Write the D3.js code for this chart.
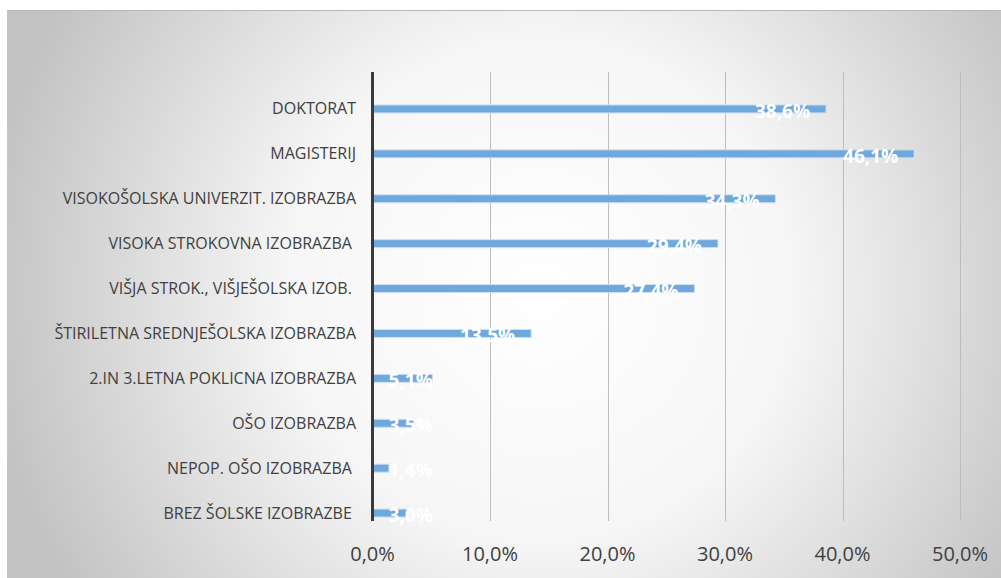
<!DOCTYPE html>
<html>
<head>
<meta charset="utf-8">
<script src="https://cdn.jsdelivr.net/npm/d3@7/dist/d3.min.js"></script>
<style>
  html, body { margin: 0; padding: 0; background: #fff; }
  text { font-family: "Open Sans", "Liberation Sans", sans-serif; white-space: pre; }
</style>
</head>
<body>
<div id="chart"></div>
<script>
// categories top to bottom
var categories = [
  "DOKTORAT",
  "MAGISTERIJ",
  "VISOKOŠOLSKA UNIVERZIT. IZOBRAZBA",
  "VISOKA STROKOVNA IZOBRAZBA ",
  "VIŠJA STROK., VIŠJEŠOLSKA IZOB. ",
  "ŠTIRILETNA SREDNJEŠOLSKA IZOBRAZBA",
  "2.IN 3.LETNA POKLICNA IZOBRAZBA",
  "OŠO IZOBRAZBA",
  "NEPOP. OŠO IZOBRAZBA ",
  "BREZ ŠOLSKE IZOBRAZBE "
];
var values = [38.6, 46.1, 34.3, 29.4, 27.4, 13.5, 5.1, 3.5, 1.4, 3.0];
var ticks = [0, 10, 20, 30, 40, 50];

var W = 1001, H = 578;
var fmt = function(v) { return v.toFixed(1).replace(".", ",") + "%"; };

var svg = d3.select("#chart").append("svg").attr("width", W).attr("height", H);

// background with radial gradient
var defs = svg.append("defs");
var grad = defs.append("radialGradient").attr("id", "bg")
  .attr("gradientUnits", "userSpaceOnUse")
  .attr("cx", 540).attr("cy", 290).attr("r", 560);
grad.append("stop").attr("offset", "0%").attr("stop-color", "#ffffff");
grad.append("stop").attr("offset", "45%").attr("stop-color", "#f6f6f6");
grad.append("stop").attr("offset", "100%").attr("stop-color", "#c2c2c2");

svg.append("rect").attr("x", 7).attr("y", 10).attr("width", W - 7).attr("height", H - 10)
  .attr("fill", "url(#bg)");
svg.append("line").attr("x1", 7).attr("x2", W).attr("y1", 10.5).attr("y2", 10.5)
  .attr("stroke", "#b8b8b8");

var x = d3.scaleLinear().domain([0, 50]).range([372.5, 960]);
var y = d3.scaleBand().domain(categories).range([86.5, 535.5]);

var plotTop = 72, plotBottom = 521;

// gridlines
svg.append("g").selectAll("line").data(ticks.slice(1)).enter().append("line")
  .attr("x1", function(d) { return Math.round(x(d)) + 0.5; })
  .attr("x2", function(d) { return Math.round(x(d)) + 0.5; })
  .attr("y1", plotTop).attr("y2", plotBottom)
  .attr("stroke", "#bdbdbd").attr("stroke-width", 1);

// bars
var barH = 8;
svg.append("g").selectAll("rect").data(values).enter().append("rect")
  .attr("x", x(0))
  .attr("y", function(d, i) { return y(categories[i]) + y.bandwidth() / 2 - barH / 2; })
  .attr("width", function(d) { return x(d) - x(0); })
  .attr("height", barH)
  .attr("fill", "#6fa8dc")
  .attr("stroke", "#cfe0f1").attr("stroke-width", 1);

// data labels (white, inside end; never left of the axis)
svg.append("g").selectAll("text").data(values).enter().append("text")
  .attr("y", function(d, i) { return y(categories[i]) + y.bandwidth() / 2 + 9; })
  .attr("text-anchor", "start")
  .attr("font-size", 19).attr("font-weight", "bold")
  .attr("fill", "#ffffff")
  .text(fmt)
  .attr("x", function(d) {
    var w = this.getComputedTextLength();
    return Math.max(x(d) - 16 - w, x(0) + 16);
  });

// vertical axis line
svg.append("line").attr("x1", 372.5).attr("x2", 372.5)
  .attr("y1", plotTop).attr("y2", plotBottom)
  .attr("stroke", "#3a3a3a").attr("stroke-width", 3);

// category labels
svg.append("g").selectAll("text").data(categories).enter().append("text")
  .attr("x", 356)
  .attr("y", function(d) { return y(d) + y.bandwidth() / 2 + 5.5; })
  .attr("text-anchor", "end")
  .attr("font-size", 16)
  .attr("fill", "#404040")
  .text(function(d) { return d; });

// x tick labels
svg.append("g").selectAll("text").data(ticks).enter().append("text")
  .attr("x", function(d) { return x(d); })
  .attr("y", 561)
  .attr("text-anchor", "middle")
  .attr("font-size", 20)
  .attr("fill", "#404040")
  .text(function(d) { return fmt(d); });
</script>
</body>
</html>
